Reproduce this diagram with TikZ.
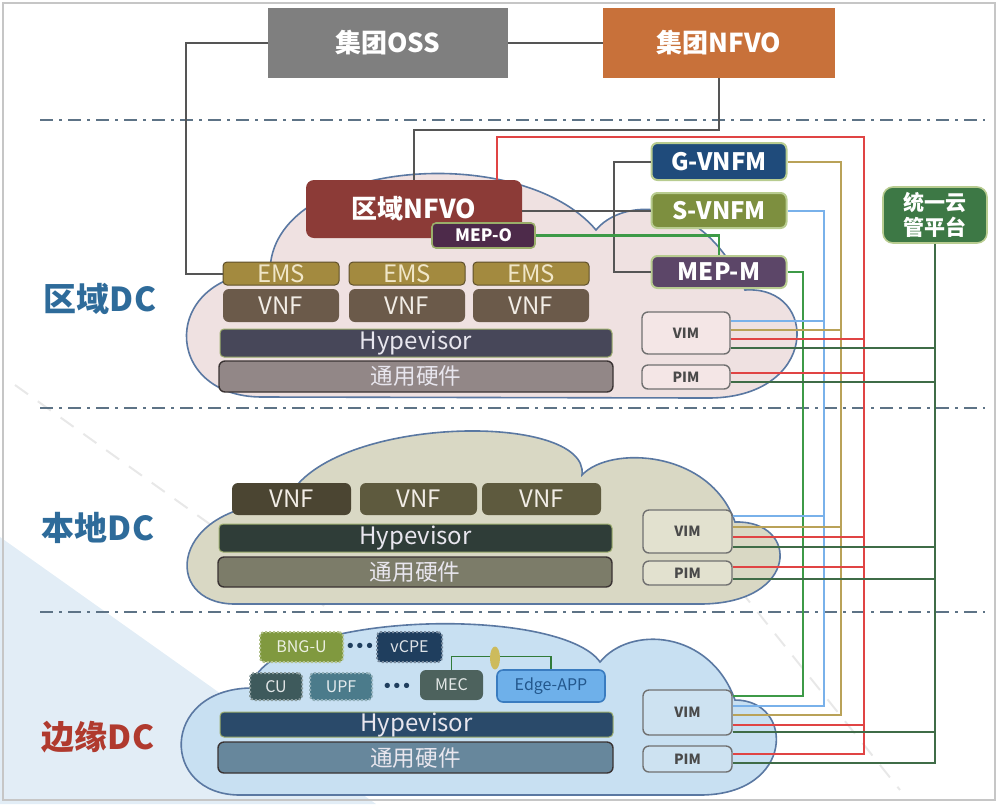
\documentclass[tikz,border=0pt]{standalone}
\usepackage{fontspec}
\setmainfont{Noto Sans CJK SC}
\newfontfamily\dejavu{DejaVu Sans}
\usetikzlibrary{shapes.geometric}
\definecolor{ossgray}{HTML}{7F7F7F}
\definecolor{gnfvocol}{HTML}{C8713A}
\definecolor{rnfvocol}{HTML}{8C3B37}
\definecolor{mepocol}{HTML}{4D2A4A}
\definecolor{mepoedge}{HTML}{9AAE6A}
\definecolor{emscol}{HTML}{A38A3F}
\definecolor{emsedge}{HTML}{5E4F2A}
\definecolor{emstext}{HTML}{F0E6C8}
\definecolor{vnfcol}{HTML}{6B5A4A}
\definecolor{vnftext}{HTML}{F2EDE6}
\definecolor{hypcol}{HTML}{474759}
\definecolor{hypedge}{HTML}{9DAE6E}
\definecolor{hwcol}{HTML}{928787}
\definecolor{hwedge}{HTML}{3A3333}
\definecolor{lighttext}{HTML}{E8E6EE}
\definecolor{vimcol}{HTML}{F4E6E6}
\definecolor{vimedge}{HTML}{707070}
\definecolor{vimtext}{HTML}{4A4A4A}
\definecolor{gvnfmcol}{HTML}{1F4B7B}
\definecolor{svnfmcol}{HTML}{7D8F3F}
\definecolor{mepmcol}{HTML}{5C4668}
\definecolor{mgredge}{HTML}{B8CC90}
\definecolor{mgrcol}{HTML}{3D7845}
\definecolor{cloud1}{HTML}{EFE1E1}
\definecolor{cloud2}{HTML}{D9D8C4}
\definecolor{cloud3}{HTML}{C8E0F2}
\definecolor{cloudedge}{HTML}{5A78A2}
\definecolor{vnfdark}{HTML}{4B4532}
\definecolor{vnfolive}{HTML}{5E5A3E}
\definecolor{hypcol2}{HTML}{2F3D38}
\definecolor{hwcol2}{HTML}{7C7C69}
\definecolor{vimcol2}{HTML}{E2E1CF}
\definecolor{bngucol}{HTML}{80993F}
\definecolor{vcpecol}{HTML}{1F3E5E}
\definecolor{cucol}{HTML}{3E5A5C}
\definecolor{upfcol}{HTML}{4B7B8B}
\definecolor{meccol}{HTML}{4D625D}
\definecolor{appcol}{HTML}{6EB0EA}
\definecolor{appedge}{HTML}{3A7CC0}
\definecolor{apptext}{HTML}{23578C}
\definecolor{hypcol3}{HTML}{2A4A6A}
\definecolor{hwcol3}{HTML}{67879C}
\definecolor{vimcol3}{HTML}{CDE2F1}
\definecolor{apicol}{HTML}{CDBB5C}
\definecolor{linkgray}{HTML}{555555}
\definecolor{lred}{HTML}{E04444}
\definecolor{lgold}{HTML}{B9A258}
\definecolor{lblue}{HTML}{79B1EA}
\definecolor{lgreen}{HTML}{3D9A47}
\definecolor{ldkgreen}{HTML}{3F6C47}
\definecolor{sepcol}{HTML}{5D7386}
\definecolor{bgblue}{HTML}{E2EDF6}
\definecolor{lblblue}{HTML}{2E6B9A}
\definecolor{lblred}{HTML}{B03A2E}
\begin{document}
\begin{tikzpicture}[x=0.5pt,y=-0.5pt,
 sz/.style 2 args={minimum width=#1,minimum height=#2},
 box/.style={rectangle,inner sep=0pt,align=center,rounded corners=2pt},
 fbig/.style={font=\bfseries\fontsize{13}{15}\selectfont},
 fmgr/.style={font=\bfseries\fontsize{12}{14}\selectfont},
 fmid/.style={font=\fontsize{12}{14}\selectfont},
 fhw/.style={font=\fontsize{11.3}{13}\selectfont},
 fsmall/.style={font=\bfseries\fontsize{7}{8}\selectfont},
 fedge/.style={font=\fontsize{8}{9}\selectfont},
 fdots/.style={font=\dejavu\bfseries\fontsize{7.5}{8}\selectfont,inner sep=0pt},
 lbl/.style={font=\bfseries\fontsize{16.5}{18}\selectfont},
 link/.style={draw=linkgray,line width=1pt},
 redl/.style={draw=lred,line width=1pt},
 goldl/.style={draw=lgold,line width=1pt},
 bluel/.style={draw=lblue,line width=1pt},
 greenl/.style={draw=lgreen,line width=1.3pt},
 dkgl/.style={draw=ldkgreen,line width=1pt},
 sepline/.style={draw=sepcol,line width=1.3pt,dash pattern=on 6.5pt off 3pt on 1.5pt off 3pt},
 cloudline/.style={draw=cloudedge,line width=0.8pt}]
 \useasboundingbox (0,0) rectangle (1000,804);
 \fill[bgblue] (0,537) -- (376,804) -- (0,804) -- cycle; %背景
 \draw[gray!18,line width=1pt,dash pattern=on 8pt off 6pt] (15,385) -- (330,610);
 \draw[gray!18,line width=1pt,dash pattern=on 8pt off 6pt] (740,590) -- (900,790);
 \draw[gray!45,line width=1pt] (3,3) rectangle (995,800); %外框
 \foreach \y in {120,408,612}
  \draw[sepline] (40,\y) -- (985,\y);
 %云
 \filldraw[cloudline,fill=cloud1] (262,397) .. controls (160,397) and (160,272) .. (270,272) .. controls (270,160) and (520,140) .. (596,230) .. controls (620,200) and (700,190) .. (745,290) .. controls (820,285) and (820,400) .. (705,398) -- cycle;
 \filldraw[cloudline,fill=cloud2] (235,604) .. controls (160,604) and (170,503) .. (286,503) .. controls (320,415) and (590,410) .. (582,475) .. controls (610,445) and (710,450) .. (735,522) .. controls (800,520) and (800,604) .. (700,604) -- cycle;
 \filldraw[cloudline,fill=cloud3] (240,795) .. controls (160,795) and (160,690) .. (250,688) .. controls (270,610) and (560,605) .. (600,662) .. controls (630,625) and (710,630) .. (735,700) .. controls (795,700) and (795,795) .. (700,795) -- cycle;
 %集团
 \node[box,rounded corners=0pt,sz={120pt}{35pt},fill=ossgray,text=white,fbig] (oss) at (388,43) {集团OSS};
 \node[box,rounded corners=0pt,sz={116pt}{35pt},fill=gnfvocol,text=white,fbig] (gnfvo) at (719,43) {集团NFVO};
 %区域DC
 \node[lbl,text=lblblue] (rdc) at (100,299) {区域DC};
 \node[box,rounded corners=4pt,sz={108pt}{29pt},fill=rnfvocol,text=white,fbig] (rnfvo) at (414,209) {区域NFVO};
 \node[box,sz={51.5pt}{12.5pt},fill=mepocol,draw=mepoedge,line width=0.8pt,text=white,font=\bfseries\fontsize{8.5}{9}\selectfont] (mepo) at (483.5,235.5) {MEP-O};
 \foreach \i/\x in {1/281,2/407,3/531}{
  \node[box,sz={58pt}{11.5pt},fill=emscol,draw=emsedge,line width=0.5pt,text=emstext,fmid] (ems\i) at (\x,273.5) {EMS};
  \node[box,rounded corners=3pt,sz={58pt}{16.5pt},fill=vnfcol,text=vnftext,fmid] (vnf\i) at (\x,305.5) {VNF};
 }
 \node[box,sz={196pt}{14pt},fill=hypcol,draw=hypedge,line width=0.5pt,text=lighttext,fmid] (hyp1) at (416,343) {Hypevisor};
 \node[box,rounded corners=3pt,sz={197pt}{15.5pt},fill=hwcol,draw=hwedge,line width=0.7pt,text=lighttext,fhw] (hw1) at (416,376.5) {通用硬件};
 \node[box,rounded corners=3pt,sz={44pt}{21pt},fill=vimcol,draw=vimedge,line width=0.7pt,text=vimtext,fsmall] (vim1) at (686,333) {VIM};
 \node[box,rounded corners=3pt,sz={44pt}{12pt},fill=vimcol,draw=vimedge,line width=0.7pt,text=vimtext,fsmall] (pim1) at (686,377) {PIM};
 \node[box,rounded corners=3pt,sz={67.5pt}{18.5pt},fill=gvnfmcol,draw=mgredge,line width=1pt,text=white,fmgr] (gvnfm) at (719,161.5) {G-VNFM};
 \node[box,rounded corners=3pt,sz={67.5pt}{17.5pt},fill=svnfmcol,draw=mgredge,line width=1pt,text=white,fmgr] (svnfm) at (719,210.5) {S-VNFM};
 \node[box,rounded corners=3pt,sz={67.5pt}{16pt},fill=mepmcol,draw=mgredge,line width=1pt,text=white,fmgr] (mepm) at (719,272) {MEP-M};
 \node[box,rounded corners=5pt,sz={52pt}{28pt},fill=mgrcol,draw=mgredge,line width=0.8pt,text=white,font=\bfseries\fontsize{10.5}{12.5}\selectfont] (cloudmgr) at (935,215) {统一云\\管平台};
 %本地DC
 \node[lbl,text=lblblue] (ldc) at (98,528) {本地DC};
 \node[box,rounded corners=3pt,sz={59.5pt}{16pt},fill=vnfdark,text=vnftext,fmid] (vnf4) at (291.5,499) {VNF};
 \node[box,rounded corners=3pt,sz={58.5pt}{16pt},fill=vnfolive,text=vnftext,fmid] (vnf5) at (418.5,499) {VNF};
 \node[box,rounded corners=3pt,sz={59.5pt}{16pt},fill=vnfolive,text=vnftext,fmid] (vnf6) at (541.5,499) {VNF};
 \node[box,sz={196.5pt}{14pt},fill=hypcol2,draw=hypedge,line width=0.5pt,text=lighttext,fmid] (hyp2) at (415.5,538) {Hypevisor};
 \node[box,rounded corners=3pt,sz={197pt}{15pt},fill=hwcol2,draw=hwedge,line width=0.7pt,text=lighttext,fhw] (hw2) at (415,572) {通用硬件};
 \node[box,rounded corners=3pt,sz={44.5pt}{21.5pt},fill=vimcol2,draw=vimedge,line width=0.7pt,text=vimtext,fsmall] (vim2) at (687.5,531.5) {VIM};
 \node[box,rounded corners=3pt,sz={44.5pt}{12pt},fill=vimcol2,draw=vimedge,line width=0.7pt,text=vimtext,fsmall] (pim2) at (687.5,573) {PIM};
 %边缘DC
 \node[lbl,text=lblred] (edc) at (98,737) {边缘DC};
 \node[box,sz={41.5pt}{15pt},fill=bngucol,draw=bngucol!60!white,densely dotted,line width=1pt,text=white!85!bngucol,fedge] (bngu) at (301.5,647) {BNG-U};
 \node[text=vcpecol,fdots] (dots1) at (360,647) {•••};
 \node[box,sz={32.5pt}{15pt},fill=vcpecol,draw=vcpecol!60!white,densely dotted,line width=1pt,text=white!85!vcpecol,fedge] (vcpe) at (409.5,647) {vCPE};
 \node[box,sz={26pt}{13.5pt},fill=cucol,draw=cucol!60!white,densely dotted,line width=1pt,text=white!85!cucol,fedge] (cu) at (276,686.5) {CU};
 \node[box,sz={31pt}{13.5pt},fill=upfcol,draw=upfcol!60!white,densely dotted,line width=1pt,text=white!85!upfcol,fedge] (upf) at (341,686.5) {UPF};
 \node[text=vcpecol,fdots] (dots2) at (397,687) {•••};
 \node[box,rounded corners=3pt,sz={31.5pt}{15pt},fill=meccol,text=white!85!meccol,fedge] (mec) at (451.5,685) {MEC};
 \node[box,rounded corners=3pt,sz={54pt}{16pt},fill=appcol,draw=appedge,line width=0.8pt,text=apptext,fedge] (edgeapp) at (551,686) {Edge-APP};
 \node[box,sz={196.5pt}{12.5pt},fill=hypcol3,draw=hypedge,line width=0.5pt,text=lighttext,fmid] (hyp3) at (416.5,724.5) {Hypevisor};
 \node[box,rounded corners=3pt,sz={197.5pt}{15.5pt},fill=hwcol3,draw=hwedge,line width=0.7pt,text=lighttext,fhw] (hw3) at (415.5,757.5) {通用硬件};
 \node[box,rounded corners=3pt,sz={44.5pt}{22.5pt},fill=vimcol3,draw=vimedge,line width=0.7pt,text=vimtext,fsmall] (vim3) at (687.5,712.5) {VIM};
 \node[box,rounded corners=3pt,sz={44.5pt}{13pt},fill=vimcol3,draw=vimedge,line width=0.7pt,text=vimtext,fsmall] (pim3) at (687.5,759) {PIM};
 %连线
 \draw[link] (oss.west) -- ++(-82,0) |- (ems1.west);
 \draw[link] (oss.east) -- (gnfvo.west);
 \draw[link] (gnfvo.south) -- ++(0,52) -| (rnfvo.north);
 \draw[link] (svnfm.west) -- (svnfm.west -| rnfvo.east);
 \draw[link] (gvnfm.west) -- ++(-37,0) |- (mepm.west);
 \draw[greenl] (mepo.east) -| (mepm.north);
 \draw[draw=lgreen!80!black,line width=0.8pt] (mec.north) -- ++(0,-13) -| (edgeapp.north);
 \node[ellipse,fill=apicol,sz={5pt}{11.5pt},inner sep=0pt] (api) at (495,658) {};
 \coordinate (redx) at (864,0);
 \coordinate (goldx) at (841,0);
 \coordinate (bluex) at (824,0);
 \coordinate (greenx) at (803,0);
 \draw[redl] ([xshift=41.5pt]rnfvo.north) |- (redx |- 0,137) |- (pim3.east |- 0,754);
 \draw[goldl] (gvnfm.east) -- (gvnfm.east -| goldx) |- (vim3.east |- 0,715);
 \draw[bluel] (svnfm.east) -- (svnfm.east -| bluex) |- (vim3.east |- 0,706);
 \draw[greenl] (mepm.east) -- (mepm.east -| greenx) |- (vim3.east |- 0,696);
 \draw[dkgl] (cloudmgr.south) |- (pim3.east |- 0,763);
 \foreach \n/\y/\s/\t in {vim1/321/bluel/bluex,vim1/330/goldl/goldx,vim1/339/redl/redx,vim1/348/dkgl/cloudmgr,
   pim1/373/redl/redx,pim1/382/dkgl/cloudmgr,vim2/516/bluel/bluex,vim2/527/goldl/goldx,vim2/537/redl/redx,
   vim2/547/dkgl/cloudmgr,pim2/567/redl/redx,pim2/579/dkgl/cloudmgr,vim3/725/redl/redx,vim3/732/dkgl/cloudmgr}
  \draw[\s] (\n.east |- 0,\y) -- (\t |- 0,\y);
\end{tikzpicture}
\end{document}
